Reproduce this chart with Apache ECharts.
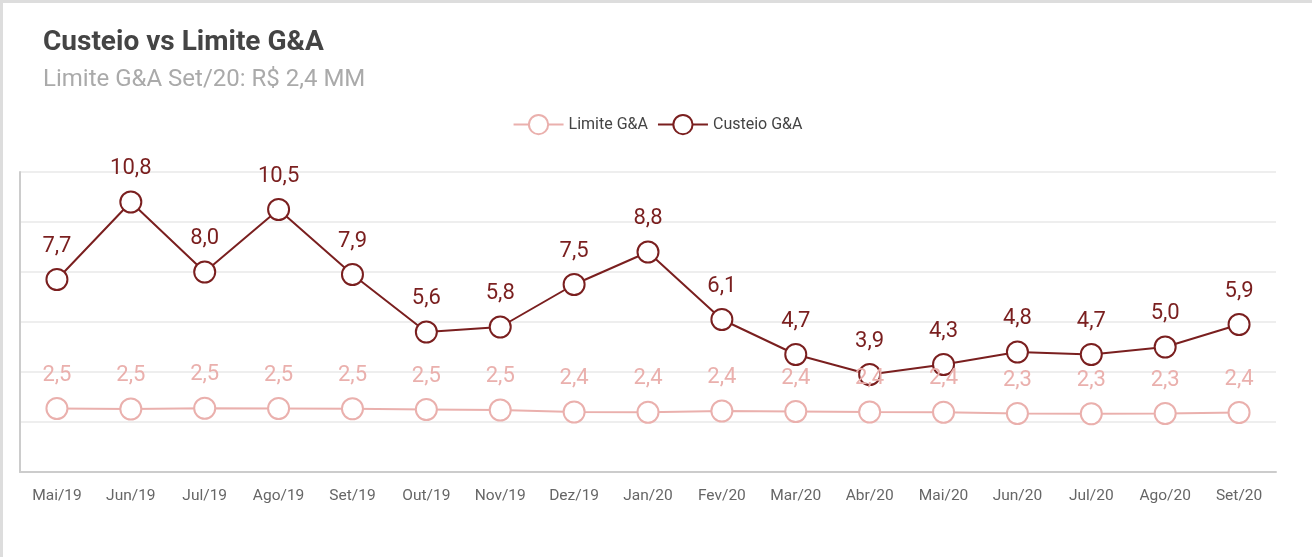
<!DOCTYPE html>
<html>
<head>
<meta charset="utf-8">
<script src="https://cdn.jsdelivr.net/npm/echarts@6/dist/echarts.min.js"></script>
<style>
  html, body { margin: 0; padding: 0; background: #fff; }
  #chart { width: 1312px; height: 557px; box-sizing: border-box; border-top: 3px solid #ddd; border-left: 3px solid #ddd; }
</style>
</head>
<body>
<div id="chart"></div>
<script>
// dados
const months = ['Mai/19', 'Jun/19', 'Jul/19', 'Ago/19', 'Set/19', 'Out/19', 'Nov/19', 'Dez/19', 'Jan/20',
  'Fev/20', 'Mar/20', 'Abr/20', 'Mai/20', 'Jun/20', 'Jul/20', 'Ago/20', 'Set/20'];
const limite = [2.54, 2.52, 2.55, 2.54, 2.53, 2.50, 2.48, 2.40, 2.39, 2.44, 2.42, 2.40, 2.39, 2.34, 2.33, 2.34, 2.38];
const custeio = [7.7, 10.8, 8.0, 10.5, 7.9, 5.6, 5.8, 7.5, 8.8, 6.1, 4.7, 3.9, 4.3, 4.8, 4.7, 5.0, 5.9];

const fmt = p => p.value.toFixed(1).replace('.', ',');
const font = 'Roboto';

const chart = echarts.init(document.getElementById('chart'));
chart.setOption({
  textStyle: { fontFamily: font },
  title: {
    text: 'Custeio vs Limite G&A',
    subtext: 'Limite G&A Set/20: R$ 2,4 MM',
    left: 35,
    top: 21,
    itemGap: 11,
    textStyle: { fontFamily: font, fontSize: 28, fontWeight: 'bold', color: '#444' },
    subtextStyle: { fontFamily: font, fontSize: 24, color: '#aaa' }
  },
  legend: {
    top: 106,
    left: 'center',
    itemWidth: 50,
    itemHeight: 24,
    itemGap: 9,
    textStyle: { fontFamily: font, fontSize: 16, color: '#444' },
    data: ['Limite G&A', 'Custeio G&A']
  },
  grid: { left: 17, right: 36, top: 169, bottom: 85 },
  xAxis: {
    type: 'category',
    data: months,
    axisLine: { lineStyle: { color: '#ccc', width: 2 } },
    axisTick: { length: 8, lineStyle: { color: '#ccc', width: 2 } },
    axisLabel: { color: '#666', fontSize: 15.5, margin: 16 }
  },
  yAxis: {
    type: 'value',
    min: 0,
    max: 12,
    interval: 2,
    axisLine: { show: true, lineStyle: { color: '#ccc', width: 2 } },
    axisTick: { show: false },
    axisLabel: { show: false },
    splitLine: { lineStyle: { color: '#eee', width: 2 } }
  },
  series: [
    {
      name: 'Limite G&A',
      type: 'line',
      data: limite,
      symbol: 'circle',
      symbolSize: 21,
      color: '#eab0ad',
      lineStyle: { width: 2, color: '#eab0ad' },
      itemStyle: { color: '#fff', borderColor: '#eab0ad', borderWidth: 2 },
      label: { show: true, position: 'top', distance: 11, formatter: fmt, color: '#eab0ad', fontSize: 22 }
    },
    {
      name: 'Custeio G&A',
      type: 'line',
      data: custeio,
      symbol: 'circle',
      symbolSize: 21,
      color: '#7a1f1f',
      lineStyle: { width: 2, color: '#7a1f1f' },
      itemStyle: { color: '#fff', borderColor: '#7a1f1f', borderWidth: 2 },
      label: { show: true, position: 'top', distance: 11, formatter: fmt, color: '#7a1f1f', fontSize: 22 }
    }
  ]
});
</script>
</body>
</html>
